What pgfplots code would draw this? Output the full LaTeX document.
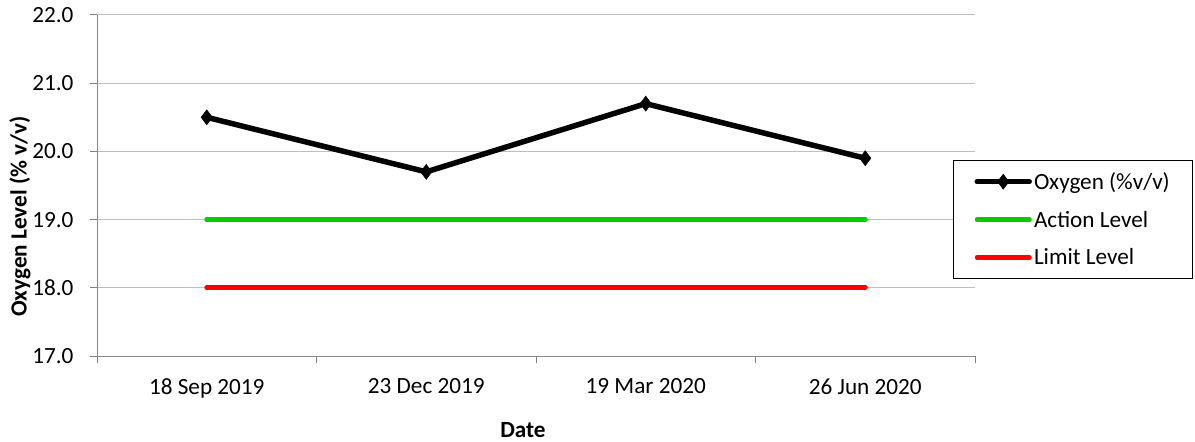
\documentclass[border=0pt]{standalone}
\usepackage{pgfplots}
\pgfplotsset{compat=1.18}
\usepackage{fontspec}
\setmainfont{Carlito}
\definecolor{grid}{RGB}{134,134,134}
\definecolor{lgreen}{RGB}{0,204,0}
\definecolor{lred}{RGB}{255,0,0}
\newcommand{\cf}{\fontsize{23.2bp}{27.5bp}\selectfont}
\begin{document}
\begin{tikzpicture}
\path[use as bounding box] (0,0) rectangle (1195bp,442bp);
\begin{axis}[
  at={(97bp,86bp)}, anchor=south west,
  scale only axis, width=878bp, height=341bp,
  xmin=-0.5, xmax=3.5, ymin=17, ymax=22,
  axis x line*=bottom, axis y line*=left,
  axis line style={grid, line width=1bp, -},
  xtick={-0.5,0.5,1.5,2.5,3.5},
  xticklabels={},
  extra x ticks={0,1,2,3},
  extra x tick labels={18 Sep 2019, 23 Dec 2019, 19 Mar 2020, 26 Jun 2020},
  extra x tick style={tick style={draw=none}, grid=none},
  ytick={17,18,...,22},
  tick style={grid, line width=1bp},
  major tick length=7bp,
  tick align=outside,
  ymajorgrids, xmajorgrids=false, grid style={grid, line width=1bp},
  /pgf/number format/assume math mode=true,
  yticklabel style={/pgf/number format/fixed, /pgf/number format/fixed zerofill, /pgf/number format/precision=1, font=\cf, xshift=-13bp},
  xticklabel style={font=\cf, yshift=-12bp},
  xlabel={\textbf{Date}}, xlabel style={font=\cf, yshift=-11bp, xshift=-13bp},
  ylabel={\textbf{Oxygen Level (\% v/v)}}, ylabel style={font=\cf, yshift=-5bp, xshift=-31bp},
  legend style={at={(953bp-97bp,356bp-160bp)}, anchor=north west, draw=black, line width=1bp, fill=white,
    font=\cf, row sep=16bp, inner xsep=21bp, inner ysep=10bp},
  legend cell align=left,
  legend image code/.code={\draw[#1, line cap=round] (0bp,0bp) -- (52bp,0bp); \path[#1] plot coordinates {(26bp,0bp)};},
  clip=false,
]
\addplot[black, line width=5.5bp, mark=diamond*, mark size=7.5bp, mark options={solid, line width=0.5bp}] coordinates {(0,20.5) (1,19.7) (2,20.7) (3,19.9)};
\addlegendentry{Oxygen (\%v/v)}
\addplot[lgreen, line width=5bp, line cap=round] coordinates {(0,19) (1,19) (2,19) (3,19)};
\addlegendentry{Action Level}
\addplot[lred, line width=5bp, line cap=round] coordinates {(0,18) (1,18) (2,18) (3,18)};
\addlegendentry{Limit Level}
\end{axis}
\end{tikzpicture}
\end{document}
